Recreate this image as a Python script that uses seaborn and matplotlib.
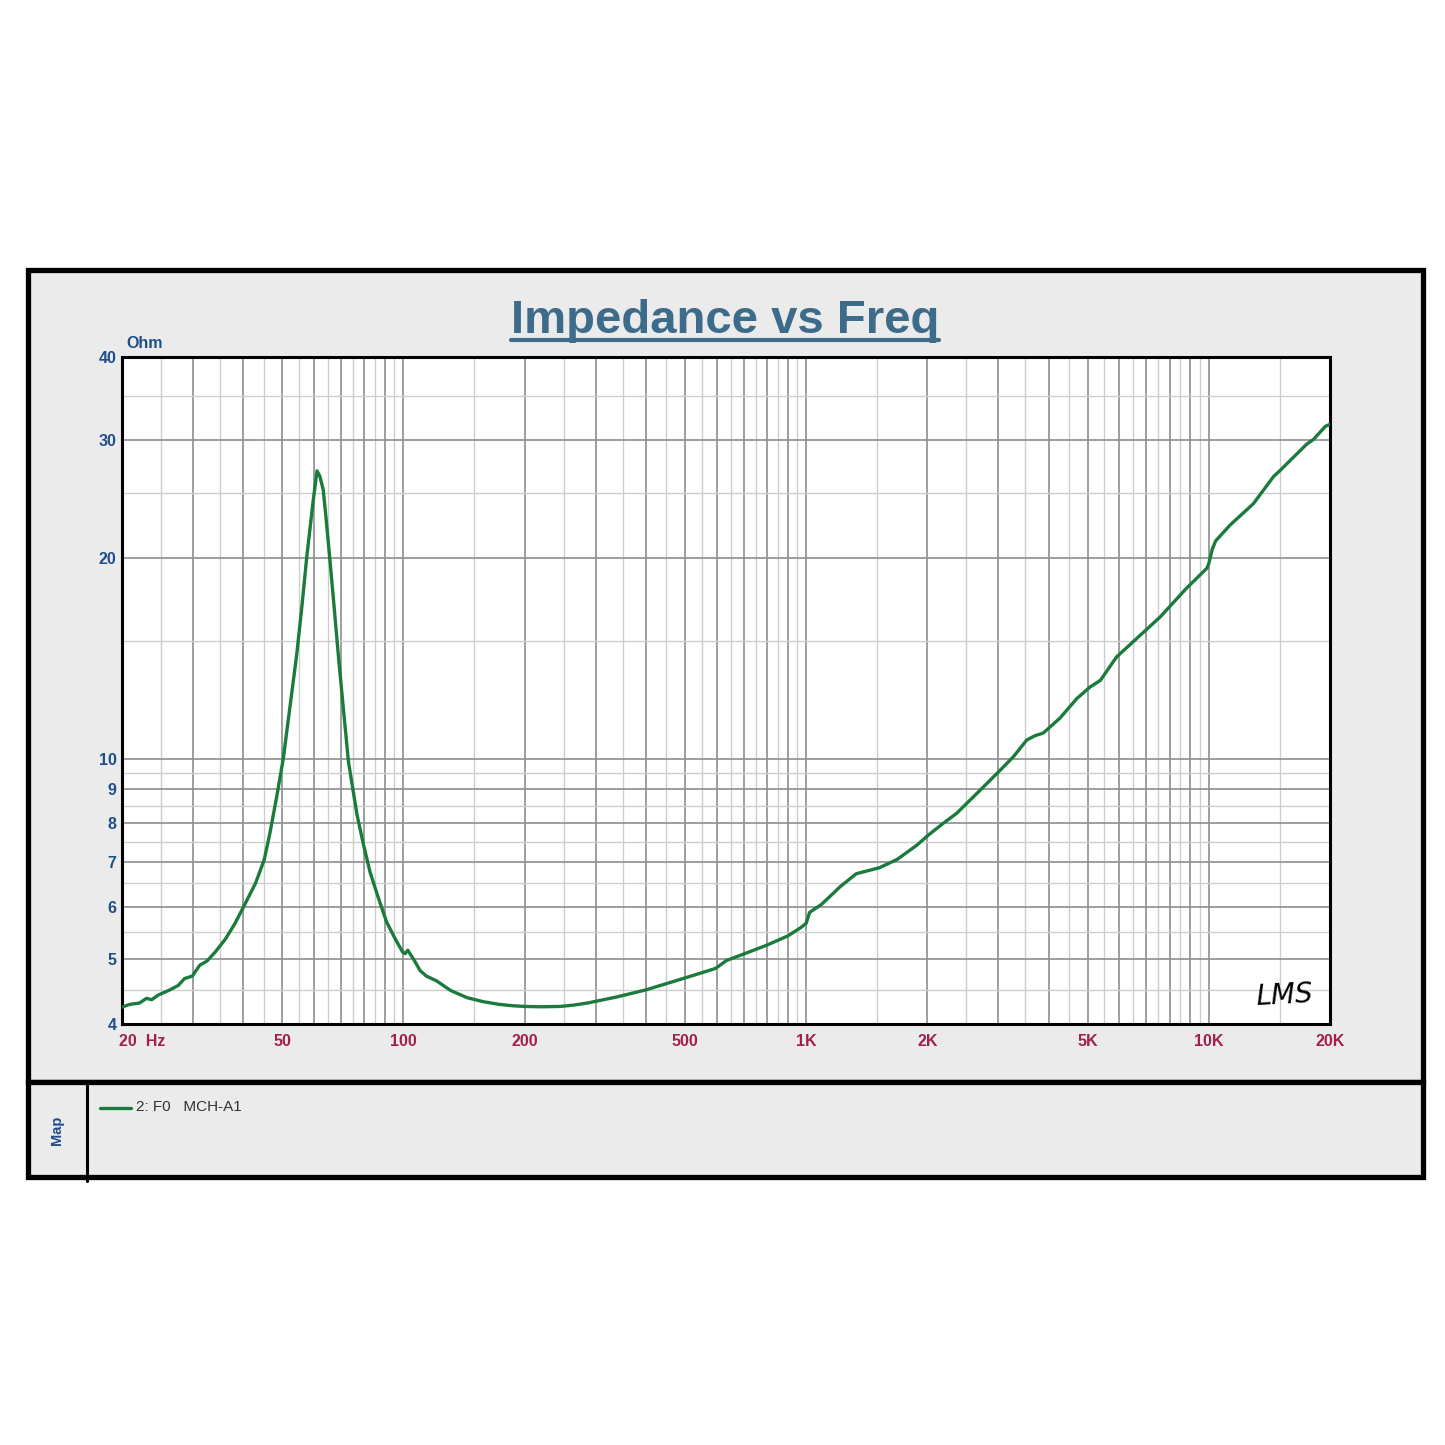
import matplotlib
matplotlib.use("Agg")
import matplotlib.pyplot as plt
import seaborn as sns
import pandas as pd
from matplotlib.patches import Rectangle
from matplotlib.lines import Line2D
from matplotlib.ticker import FixedLocator, FixedFormatter, NullFormatter
from matplotlib.transforms import blended_transform_factory

# impedance curve (Hz, Ohm)
freq = [20, 20.9, 22.1, 23.0, 23.7, 24.6, 26.3, 27.6, 28.6, 29.9,
        31.2, 32.5, 34.1, 36.1, 38.1, 40.0, 42.9, 45.1, 46.6, 48.5,
        50.3, 52.3, 54.3, 56.0, 57.5, 59.7, 61.0, 62.0, 63.2, 64.3,
        65.6, 67.2, 68.9, 71.0, 73.0, 76.7, 79.5, 82.6, 86.5, 90.8,
        95.5, 99.5, 101, 102.5, 106, 110, 114, 121, 131, 144,
        158, 173, 187, 200, 220, 245, 265, 286, 338, 400, 467, 524, 592,
        600, 634, 710, 798, 900, 966, 1000, 1020, 1090, 1171,
        1213, 1332, 1520, 1683, 1886, 2012, 2192, 2366, 2702, 3030,
        3270, 3530, 3700, 3880, 4270, 4700, 5070, 5380, 5900, 6750,
        7570, 8800, 9900, 10000, 10200, 10400, 11300, 12900, 14500, 15000,
        17500, 18200, 19500, 20000]
ohm = [4.24, 4.28, 4.30, 4.37, 4.35, 4.42, 4.50, 4.57, 4.68, 4.72,
       4.90, 4.97, 5.13, 5.36, 5.65, 5.98, 6.50, 7.05, 7.73, 8.8,
       10.0, 12.0, 14.3, 17.0, 20.0, 24.4, 27.0, 26.5, 25.3, 22.8,
       20.0, 17.0, 14.3, 11.8, 9.9, 8.23, 7.45, 6.76, 6.2, 5.69,
       5.36, 5.13, 5.10, 5.16, 5.0, 4.81, 4.72, 4.64, 4.49, 4.38,
       4.32, 4.28, 4.26, 4.25, 4.245, 4.25, 4.27, 4.30, 4.39, 4.50, 4.63, 4.73, 4.84,
       4.86, 4.98, 5.11, 5.25, 5.42, 5.57, 5.66, 5.88, 6.04, 6.29,
       6.42, 6.72, 6.86, 7.06, 7.42, 7.68, 8.0, 8.28, 8.96, 9.6,
       10.06, 10.66, 10.82, 10.92, 11.5, 12.3, 12.8, 13.1, 14.2, 15.3,
       16.3, 18.0, 19.3, 19.6, 20.6, 21.2, 22.4, 24.1, 26.5, 27.0,
       29.6, 30.1, 31.5, 31.7]

x_labels = {50: "50", 100: "100", 200: "200", 500: "500", 1000: "1K",
            2000: "2K", 5000: "5K", 10000: "10K", 20000: "20K"}
y_labels = {4: "4", 5: "5", 6: "6", 7: "7", 8: "8", 9: "9",
            10: "10", 20: "20", 30: "30", 40: "40"}

GREEN = "#1B7B3D"
BLUE = "#1F4E8C"
TITLE_C = "#3D6B8A"
MAROON = "#A31F4D"
PANEL = "#EBEBEB"

sns.set_theme(style="white")
plt.rcParams['font.family'] = ['Liberation Sans', 'DejaVu Sans']
plt.rcParams['font.weight'] = 'bold'

W = 1445
def fx(p):
    return p / W
def fy(p):
    return 1 - p / W

fig = plt.figure(figsize=(14.45, 14.45), dpi=100, facecolor='white')

# grey panels with black frames
fig.add_artist(Rectangle((fx(28), fy(1082)), fx(1423) - fx(28), fy(270) - fy(1082),
                         transform=fig.transFigure, facecolor=PANEL,
                         edgecolor='black', linewidth=3.8, zorder=0))
fig.add_artist(Rectangle((fx(28), fy(1177)), fx(1423) - fx(28), fy(1082) - fy(1177),
                         transform=fig.transFigure, facecolor=PANEL,
                         edgecolor='black', linewidth=3.8, zorder=0))
fig.add_artist(Line2D([fx(87), fx(87)], [fy(1082), fy(1181)], transform=fig.transFigure,
                      color='black', linewidth=2.2))

ax = fig.add_axes([fx(122), fy(1024), fx(1330) - fx(122), fy(357) - fy(1024)])
ax.set_facecolor('white')

df = pd.DataFrame({'freq': freq, 'ohm': ohm})
sns.lineplot(data=df, x='freq', y='ohm', ax=ax, color=GREEN, linewidth=2.4,
             estimator=None, zorder=5)

ax.set_xscale('log')
ax.set_yscale('log')
ax.set_xlim(20, 20000)
ax.set_ylim(4, 40)
ax.set_xlabel('')
ax.set_ylabel('')

# grid: dark at 1,2,..9 steps, light at the halves
x_major, x_minor = [], []
for dec in [10, 100, 1000, 10000]:
    for k in range(1, 10):
        if dec * k >= 20 and dec * k <= 20000:
            x_major.append(dec * k)
        if dec * (k + 0.5) > 20 and dec * (k + 0.5) < 20000:
            x_minor.append(dec * (k + 0.5))
y_major = [4, 5, 6, 7, 8, 9, 10, 20, 30, 40]
y_minor = [4.5, 5.5, 6.5, 7.5, 8.5, 9.5, 15, 25, 35]

ax.xaxis.set_major_locator(FixedLocator(x_major))
ax.xaxis.set_major_formatter(FixedFormatter([x_labels.get(v, "") for v in x_major]))
ax.xaxis.set_minor_locator(FixedLocator(x_minor))
ax.xaxis.set_minor_formatter(NullFormatter())
ax.yaxis.set_major_locator(FixedLocator(y_major))
ax.yaxis.set_major_formatter(FixedFormatter([y_labels[v] for v in y_major]))
ax.yaxis.set_minor_locator(FixedLocator(y_minor))
ax.yaxis.set_minor_formatter(NullFormatter())

ax.grid(which='major', color='#8E8E8E', linewidth=1.2)
ax.grid(which='minor', color='#CDCDCD', linewidth=1.0)
ax.set_axisbelow(True)
ax.tick_params(which='both', length=0)
ax.tick_params(axis='x', pad=7, labelcolor=MAROON, labelsize=11.5)
ax.tick_params(axis='y', pad=4, labelcolor=BLUE, labelsize=11.5)
for s in ax.spines.values():
    s.set_color('black')
    s.set_linewidth(2.2)
    s.set_visible(True)

trans = blended_transform_factory(ax.transData, ax.transAxes)
ax.annotate('20  Hz', xy=(20, 0), xycoords=trans, xytext=(-2, -7),
            textcoords='offset points', ha='left', va='top',
            color=MAROON, fontsize=11.5, fontweight='bold')

ax.text(0.004, 1.0135, 'Ohm', transform=ax.transAxes, ha='left', va='baseline',
        color=BLUE, fontsize=11.5, fontweight='bold')

ax.text(0.962, 0.042, 'LMS', transform=ax.transAxes, ha='center', va='center',
        fontsize=20, fontstyle='italic', fontweight='normal',
        family='DejaVu Sans', color='black', rotation=3)

title = fig.text(fx(725), fy(333), 'Impedance vs Freq', ha='center', va='baseline',
                 color=TITLE_C, fontsize=34, fontweight='bold')

# legend panel
fig.add_artist(Line2D([fx(100), fx(131)], [fy(1108), fy(1108)], transform=fig.transFigure,
                      color=GREEN, linewidth=2.4))
fig.text(fx(136), fy(1107), '2: F0   MCH-A1', ha='left', va='center',
         color='#333333', fontsize=11, fontweight='normal')
fig.text(fx(57), fy(1130), 'Map', rotation=90, ha='center', va='center',
         color=BLUE, fontsize=10.5, fontweight='bold')

# underline under the title
fig.canvas.draw()
bb = title.get_window_extent(fig.canvas.get_renderer())
fig.add_artist(Line2D([bb.x0 / W, bb.x1 / W], [fy(340), fy(340)], transform=fig.transFigure,
                      color=TITLE_C, linewidth=3.0))

fig.savefig('out.png', dpi=100, facecolor='white')
